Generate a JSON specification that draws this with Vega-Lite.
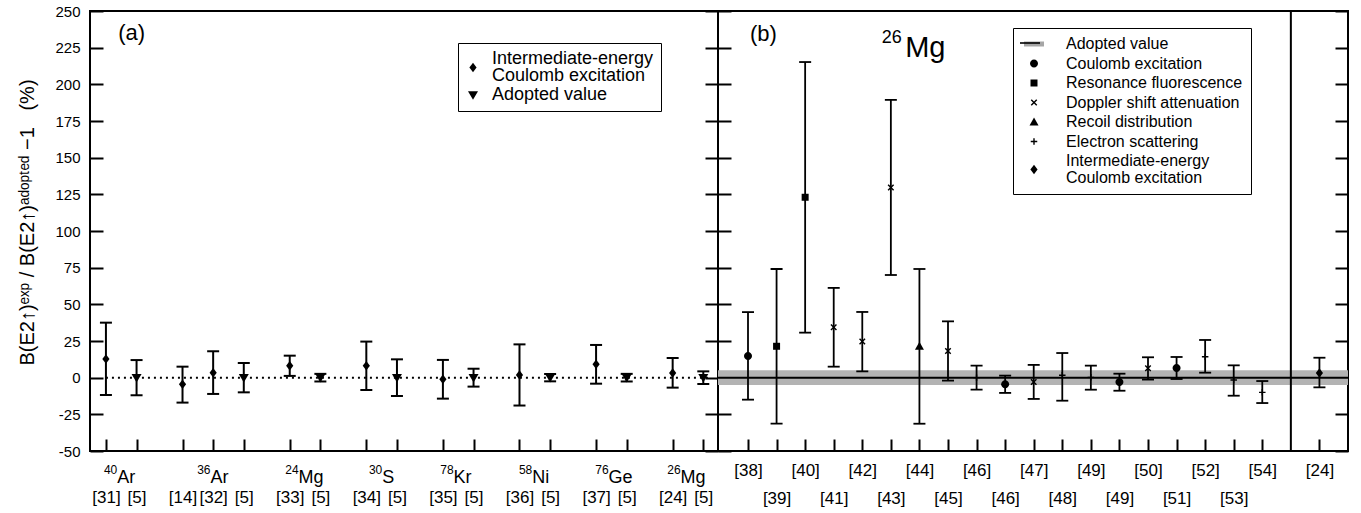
{
  "$schema": "https://vega.github.io/schema/vega-lite/v6.json",
  "autosize": {"type": "pad"},
  "padding": {"left": 16, "top": 3, "right": 5, "bottom": 0},
  "background": "white",
  "spacing": 0,
  "bounds": "flush",
  "datasets": {
    "a": [
      {"x": 0, "v": 12.7, "lo": -11.8, "hi": 37.5, "m": "Intermediate-energy Coulomb excitation"},
      {"x": 1, "v": 0, "lo": -12, "hi": 12, "m": "Adopted value"},
      {"x": 2.5, "v": -4.5, "lo": -17, "hi": 7.5, "m": "Intermediate-energy Coulomb excitation"},
      {"x": 3.5, "v": 3.4, "lo": -11.1, "hi": 18, "m": "Intermediate-energy Coulomb excitation"},
      {"x": 4.5, "v": 0, "lo": -10, "hi": 10, "m": "Adopted value"},
      {"x": 6, "v": 8.2, "lo": 1.2, "hi": 15, "m": "Intermediate-energy Coulomb excitation"},
      {"x": 7, "v": 0, "lo": -2.6, "hi": 2.6, "m": "Adopted value"},
      {"x": 8.5, "v": 8.2, "lo": -8.4, "hi": 24.6, "m": "Intermediate-energy Coulomb excitation"},
      {"x": 9.5, "v": 0, "lo": -12.5, "hi": 12.5, "m": "Adopted value"},
      {"x": 11, "v": -1.1, "lo": -14.3, "hi": 12.1, "m": "Intermediate-energy Coulomb excitation"},
      {"x": 12, "v": 0, "lo": -6.1, "hi": 6.1, "m": "Adopted value"},
      {"x": 13.5, "v": 1.8, "lo": -19, "hi": 22.7, "m": "Intermediate-energy Coulomb excitation"},
      {"x": 14.5, "v": 0, "lo": -2.5, "hi": 2.5, "m": "Adopted value"},
      {"x": 16, "v": 9.1, "lo": -4.1, "hi": 22.3, "m": "Intermediate-energy Coulomb excitation"},
      {"x": 17, "v": 0, "lo": -2.6, "hi": 2.6, "m": "Adopted value"},
      {"x": 18.5, "v": 3.2, "lo": -6.8, "hi": 13.4, "m": "Intermediate-energy Coulomb excitation"},
      {"x": 19.5, "v": 0, "lo": -4.3, "hi": 4.3, "m": "Adopted value"}
    ],
    "b": [
      {"x": 0, "v": 14.8, "lo": -15, "hi": 44.7, "m": "Coulomb excitation"},
      {"x": 1, "v": 21.4, "lo": -31.4, "hi": 74.1, "m": "Resonance fluorescence"},
      {"x": 2, "v": 123, "lo": 30.7, "hi": 215.2, "m": "Resonance fluorescence"},
      {"x": 3, "v": 34.4, "lo": 7.5, "hi": 61.2, "m": "Doppler shift attenuation"},
      {"x": 4, "v": 24.6, "lo": 4.3, "hi": 44.8, "m": "Doppler shift attenuation"},
      {"x": 5, "v": 129.6, "lo": 70, "hi": 189.4, "m": "Doppler shift attenuation"},
      {"x": 6, "v": 21.4, "lo": -31.4, "hi": 74.1, "m": "Recoil distribution"},
      {"x": 7, "v": 18.2, "lo": -2, "hi": 38.4, "m": "Doppler shift attenuation"},
      {"x": 8, "v": 0, "lo": -8.2, "hi": 8.2, "m": "Electron scattering"},
      {"x": 9, "v": -4.5, "lo": -10.4, "hi": 1.4, "m": "Coulomb excitation"},
      {"x": 10, "v": -2.9, "lo": -14.5, "hi": 8.7, "m": "Doppler shift attenuation"},
      {"x": 11, "v": 1.6, "lo": -15.7, "hi": 16.8, "m": "Electron scattering"},
      {"x": 12, "v": 0.2, "lo": -8.2, "hi": 8.2, "m": "Electron scattering"},
      {"x": 13, "v": -2.9, "lo": -8.9, "hi": 2.7, "m": "Coulomb excitation"},
      {"x": 14, "v": 6.4, "lo": -1.3, "hi": 13.9, "m": "Doppler shift attenuation"},
      {"x": 15, "v": 6.6, "lo": -0.9, "hi": 14.1, "m": "Coulomb excitation"},
      {"x": 16, "v": 14.3, "lo": 3.4, "hi": 25.7, "m": "Electron scattering"},
      {"x": 17, "v": -1.6, "lo": -12.3, "hi": 8.4, "m": "Electron scattering"},
      {"x": 18, "v": -10, "lo": -17.3, "hi": -2.3, "m": "Electron scattering"},
      {"x": 20, "v": 3.2, "lo": -6.6, "hi": 13.6, "m": "Intermediate-energy Coulomb excitation"}
    ]
  },
  "hconcat": [
    {
      "width": 628,
      "height": 440,
      "data": {"name": "a"},
      "resolve": {"axis": {"x": "independent", "y": "independent"}, "scale": {"shape": "independent"}, "legend": {"shape": "independent"}},
      "layer": [
        {
          "data": {"values": [{}]},
          "mark": {"type": "rule", "color": "black", "strokeWidth": 2, "strokeDash": [2, 4]},
          "encoding": {
            "x": {"datum": 0, "type": "quantitative", "axis": null},
            "x2": {"datum": 19.65},
            "y": {"datum": 0, "type": "quantitative", "axis": null}
          }
        },
        {
          "mark": {"type": "rule", "color": "black", "strokeWidth": 2},
          "encoding": {
            "x": {
              "field": "x", "type": "quantitative",
              "scale": {"domain": [-0.52, 19.98], "nice": false, "zero": false},
              "axis": {
                "orient": "bottom",
                "title": null,
                "values": [0, 1, 2.5, 3.5, 4.5, 6, 7, 8.5, 9.5, 11, 12, 13.5, 14.5, 16, 17, 18.5, 19.5],
                "labelExpr": "['[31]','[5]','[14]','[32]','[5]','[33]','[5]','[34]','[5]','[35]','[5]','[36]','[5]','[37]','[5]','[24]','[5]'][indexof([0,1,2.5,3.5,4.5,6,7,8.5,9.5,11,12,13.5,14.5,16,17,18.5,19.5], datum.value)]",
                "tickSize": -12,
                "labelPadding": 58,
                "labelBaseline": "middle",
                "labelFontSize": 17
              }
            },
            "y": {
              "field": "lo", "type": "quantitative",
              "scale": {"domain": [-50, 250], "nice": false, "zero": false},
              "axis": {
                "orient": "left",
                "values": [-50, -25, 0, 25, 50, 75, 100, 125, 150, 175, 200, 225, 250],
                "labelExpr": "'' + datum.value",
                "tickSize": -13,
                "labelPadding": 23,
                "labelFontSize": 15,
                "title": "B(E2↑)ᵉˣᵖ / B(E2↑)ᵃᵈᵒᵖᵗᵉᵈ −1\u00a0\u00a0\u00a0(%)",
                "titleFontSize": 20,
                "titleFontWeight": "normal",
                "titleFont": "Liberation Sans",
                "titleAngle": -90,
                "titleX": -57,
                "titleY": 211,
                "titleBaseline": "alphabetic",
                "titleAlign": "center"
              }
            },
            "y2": {"field": "hi"}
          }
        },
        {
          "mark": {"type": "tick", "orient": "horizontal", "size": 12, "thickness": 2, "color": "black", "opacity": 1},
          "encoding": {
            "x": {
              "field": "x", "type": "quantitative",
              "axis": {
                "orient": "bottom",
                "title": null,
                "values": [0.353, 3.399, 6.272, 9.004, 11.332, 13.901, 16.392, 18.743],
                "labelExpr": "['40','36','24','30','78','58','76','26'][indexof([0.353,3.399,6.272,9.004,11.332,13.901,16.392,18.743], datum.value)]",
                "ticks": false,
                "labelAlign": "right",
                "labelPadding": 18,
                "labelBaseline": "middle",
                "labelFontSize": 12
              }
            },
            "y": {"field": "lo", "type": "quantitative", "axis": null}
          }
        },
        {
          "mark": {"type": "tick", "orient": "horizontal", "size": 12, "thickness": 2, "color": "black", "opacity": 1},
          "encoding": {
            "x": {"field": "x", "type": "quantitative", "axis": null},
            "y": {"field": "hi", "type": "quantitative", "axis": null}
          }
        },
        {
          "mark": {"type": "point", "filled": true, "color": "black", "opacity": 1, "size": 100, "strokeWidth": 0},
          "encoding": {
            "x": {
              "field": "x", "type": "quantitative",
              "axis": {
                "orient": "bottom",
                "title": null,
                "values": [0.353, 3.399, 6.272, 9.004, 11.332, 13.901, 16.392, 18.743],
                "labelExpr": "['Ar','Ar','Mg','S','Kr','Ni','Ge','Mg'][indexof([0.353,3.399,6.272,9.004,11.332,13.901,16.392,18.743], datum.value)]",
                "ticks": false,
                "labelAlign": "left",
                "labelPadding": 26,
                "labelBaseline": "middle",
                "labelFontSize": 18
              }
            },
            "y": {
              "field": "v", "type": "quantitative",
              "axis": {
                "orient": "right",
                "title": null,
                "values": [-50, -25, 0, 25, 50, 75, 100, 125, 150, 175, 200, 225, 250],
                "labels": false,
                "tickSize": -13
              }
            },
            "shape": {
              "field": "m", "type": "nominal",
              "scale": {
                "domain": ["Intermediate-energy Coulomb excitation", "Adopted value"],
                "range": ["M0,-0.95L0.72,0L0,0.95L-0.72,0Z", "M-1,-0.75L1,-0.75L0,0.95Z"]
              },
              "legend": null
            }
          }
        },
        {
          "transform": [{"filter": "false"}],
          "mark": {"type": "point", "filled": true, "color": "black", "opacity": 1, "size": 100, "strokeWidth": 0},
          "encoding": {
            "x": {"field": "x", "type": "quantitative", "axis": null},
            "y": {"field": "v", "type": "quantitative", "axis": null},
            "shape": {
              "field": "m", "type": "nominal",
              "scale": {
                "domain": ["Intermediate-energy Coulomb excitation", "Adopted value"],
                "range": ["M0,0.75L0.72,1.7L0,2.65L-0.72,1.7Z", "M-1,-0.75L1,-0.75L0,0.95Z"]
              },
              "legend": {
                "title": null,
                "orient": "none",
                "legendX": 368,
                "legendY": 32,
                "padding": 7,
                "symbolOffset": -1,
                "labelOffset": 10,
                "labelFontSize": 18,
                "rowPadding": 1,
                "symbolFillColor": "black",
                "labelExpr": "datum.label == 'Intermediate-energy Coulomb excitation' ? ['Intermediate-energy', 'Coulomb excitation'] : datum.label"
              }
            }
          }
        },
        {
          "data": {"values": [{}]},
          "mark": {"type": "text", "text": "(a)", "align": "left", "baseline": "middle", "fontSize": 22, "fontWeight": "normal", "font": "Liberation Sans", "fill": "black"},
          "encoding": {
            "x": {"datum": 0.4, "type": "quantitative", "axis": null},
            "y": {"datum": 235, "type": "quantitative", "axis": null}
          }
        }
      ]
    },
    {
      "width": 630,
      "height": 440,
      "data": {"name": "b"},
      "resolve": {"axis": {"x": "independent", "y": "independent"}, "scale": {"shape": "independent", "color": "independent"}, "legend": {"shape": "independent", "color": "independent"}},
      "layer": [
        {
          "data": {"values": [{}]},
          "mark": {"type": "rect", "color": "#b3b3b3", "opacity": 1},
          "encoding": {
            "x": {"datum": -1.05, "type": "quantitative", "axis": null},
            "x2": {"datum": 21},
            "y": {"datum": -5, "type": "quantitative", "axis": null},
            "y2": {"datum": 5}
          }
        },
        {
          "data": {"values": [{}]},
          "mark": {"type": "rule", "color": "black", "strokeWidth": 2},
          "encoding": {
            "y": {"datum": 0, "type": "quantitative", "axis": null}
          }
        },
        {
          "data": {"values": [{}]},
          "mark": {"type": "rule", "color": "black", "strokeWidth": 2},
          "encoding": {
            "x": {"datum": 19, "type": "quantitative", "axis": null}
          }
        },
        {
          "mark": {"type": "rule", "color": "black", "strokeWidth": 1.8},
          "encoding": {
            "x": {
              "field": "x", "type": "quantitative",
              "scale": {"domain": [-1.05, 21], "nice": false, "zero": false},
              "axis": {
                "orient": "bottom",
                "title": null,
                "values": [0, 1, 2, 3, 4, 5, 6, 7, 8, 9, 10, 11, 12, 13, 14, 15, 16, 17, 18, 20],
                "labelExpr": "indexof([0,2,4,6,8,10,12,14,16,18,20], datum.value) >= 0 ? ['[38]','[40]','[42]','[44]','[46]','[47]','[49]','[50]','[52]','[54]','[24]'][indexof([0,2,4,6,8,10,12,14,16,18,20], datum.value)] : ''",
                "tickSize": -12,
                "labelPadding": 31,
                "labelBaseline": "middle",
                "labelFontSize": 17
              }
            },
            "y": {
              "field": "lo", "type": "quantitative",
              "scale": {"domain": [-50, 250], "nice": false, "zero": false},
              "axis": {
                "orient": "left",
                "title": null,
                "values": [-50, -25, 0, 25, 50, 75, 100, 125, 150, 175, 200, 225, 250],
                "labels": false,
                "tickSize": -13
              }
            },
            "y2": {"field": "hi"}
          }
        },
        {
          "mark": {"type": "tick", "orient": "horizontal", "size": 12, "thickness": 1.8, "color": "black", "opacity": 1},
          "encoding": {
            "x": {"field": "x", "type": "quantitative", "axis": null},
            "y": {"field": "lo", "type": "quantitative", "axis": null}
          }
        },
        {
          "mark": {"type": "tick", "orient": "horizontal", "size": 12, "thickness": 1.8, "color": "black", "opacity": 1},
          "encoding": {
            "x": {"field": "x", "type": "quantitative", "axis": null},
            "y": {"field": "hi", "type": "quantitative", "axis": null}
          }
        },
        {
          "mark": {"type": "point", "filled": true, "color": "black", "opacity": 1, "size": 100, "strokeWidth": 0},
          "encoding": {
            "x": {
              "field": "x", "type": "quantitative",
              "axis": {
                "orient": "bottom",
                "title": null,
                "values": [1, 3, 5, 7, 9, 11, 13, 15, 17],
                "labelExpr": "['[39]','[41]','[43]','[45]','[46]','[48]','[49]','[51]','[53]'][indexof([1,3,5,7,9,11,13,15,17], datum.value)]",
                "ticks": false,
                "labelPadding": 47,
                "labelBaseline": "middle",
                "labelFontSize": 17
              }
            },
            "y": {
              "field": "v", "type": "quantitative",
              "axis": {
                "orient": "right",
                "title": null,
                "values": [-50, -25, 0, 25, 50, 75, 100, 125, 150, 175, 200, 225, 250],
                "labels": false,
                "tickSize": -13
              }
            },
            "shape": {
              "field": "m", "type": "nominal",
              "scale": {
                "domain": ["Adopted value", "Coulomb excitation", "Resonance fluorescence", "Doppler shift attenuation", "Recoil distribution", "Electron scattering", "Intermediate-energy Coulomb excitation"],
                "range": [
                  "M-2,-0.6H2V0.6H-2Z",
                  "M0.8,0A0.8,0.8,0,1,1,-0.8,0A0.8,0.8,0,1,1,0.8,0Z",
                  "M-0.7,-0.7H0.7V0.7H-0.7Z",
                  "M-0.65,-0.45L-0.45,-0.65L0,-0.2L0.45,-0.65L0.65,-0.45L0.2,0L0.65,0.45L0.45,0.65L0,0.2L-0.45,0.65L-0.65,0.45L-0.2,0Z",
                  "M0,-0.9L0.9,0.7L-0.9,0.7Z",
                  "M-0.14,-0.65H0.14V-0.14H0.65V0.14H0.14V0.65H-0.14V0.14H-0.65V-0.14H-0.14Z",
                  "M0,-0.95L0.72,0L0,0.95L-0.72,0Z"
                ]
              },
              "legend": null
            }
          }
        },
        {
          "transform": [{"filter": "false"}],
          "mark": {"type": "point", "filled": true, "opacity": 1, "size": 100, "strokeWidth": 0},
          "encoding": {
            "x": {"field": "x", "type": "quantitative", "axis": null},
            "y": {"field": "v", "type": "quantitative", "axis": null},
            "shape": {
              "field": "m", "type": "nominal",
              "scale": {
                "domain": ["Adopted value", "Coulomb excitation", "Resonance fluorescence", "Doppler shift attenuation", "Recoil distribution", "Electron scattering", "Intermediate-energy Coulomb excitation"],
                "range": [
                  "M-2,-0.5H2V0.5H-2Z",
                  "M0.8,0A0.8,0.8,0,1,1,-0.8,0A0.8,0.8,0,1,1,0.8,0Z",
                  "M-0.7,-0.7H0.7V0.7H-0.7Z",
                  "M-0.65,-0.45L-0.45,-0.65L0,-0.2L0.45,-0.65L0.65,-0.45L0.2,0L0.65,0.45L0.45,0.65L0,0.2L-0.45,0.65L-0.65,0.45L-0.2,0Z",
                  "M0,-0.9L0.9,0.7L-0.9,0.7Z",
                  "M-0.14,-0.65H0.14V-0.14H0.65V0.14H0.14V0.65H-0.14V0.14H-0.65V-0.14H-0.14Z",
                  "M0,0.75L0.72,1.7L0,2.65L-0.72,1.7Z"
                ]
              },
              "legend": {
                "title": null,
                "orient": "none",
                "legendX": 295,
                "legendY": 17,
                "padding": 8,
                "symbolOffset": 5,
                "labelOffset": 24,
                "labelFontSize": 16,
                "rowPadding": 3.5,
                "labelExpr": "datum.label == 'Intermediate-energy Coulomb excitation' ? ['Intermediate-energy', 'Coulomb excitation'] : datum.label"
              }
            },
            "color": {
              "field": "m", "type": "nominal",
              "scale": {
                "domain": ["Adopted value", "Coulomb excitation", "Resonance fluorescence", "Doppler shift attenuation", "Recoil distribution", "Electron scattering", "Intermediate-energy Coulomb excitation"],
                "range": ["#a6a6a6", "black", "black", "black", "black", "black", "black"]
              },
              "legend": {
                "title": null,
                "orient": "none",
                "legendX": 295,
                "legendY": 17,
                "padding": 8,
                "symbolOffset": 5,
                "labelOffset": 24,
                "labelFontSize": 16,
                "rowPadding": 3.5,
                "labelExpr": "datum.label == 'Intermediate-energy Coulomb excitation' ? ['Intermediate-energy', 'Coulomb excitation'] : datum.label"
              }
            }
          }
        },
        {
          "transform": [{"filter": "false"}],
          "mark": {"type": "point", "filled": true, "color": "black", "opacity": 1, "size": 100, "strokeWidth": 0},
          "encoding": {
            "x": {"field": "x", "type": "quantitative", "axis": null},
            "y": {"field": "v", "type": "quantitative", "axis": null},
            "shape": {
              "field": "m", "type": "nominal",
              "scale": {
                "domain": ["Adopted value"],
                "range": ["M-2,-0.16H2V0.16H-2Z"]
              },
              "legend": {
                "title": null,
                "orient": "none",
                "legendX": 295,
                "legendY": 27,
                "padding": 0,
                "symbolOffset": 12,
                "labelOffset": 0,
                "labelExpr": "''",
                "strokeColor": "rgba(0,0,0,0)",
                "fillColor": "rgba(0,0,0,0)",
                "symbolFillColor": "black"
              }
            }
          }
        },
        {
          "data": {"values": [{}]},
          "mark": {"type": "text", "text": "(b)", "align": "left", "baseline": "middle", "fontSize": 22, "fontWeight": "normal", "font": "Liberation Sans", "fill": "black"},
          "encoding": {
            "x": {"datum": 0.07, "type": "quantitative", "axis": null},
            "y": {"datum": 234, "type": "quantitative", "axis": null}
          }
        },
        {
          "data": {"values": [{}]},
          "mark": {"type": "text", "text": "Mg", "align": "left", "baseline": "alphabetic", "fontSize": 29, "fontWeight": "normal", "font": "Liberation Sans", "fill": "black"},
          "encoding": {
            "x": {"datum": 5.5, "type": "quantitative", "axis": null},
            "y": {"datum": 218.6, "type": "quantitative", "axis": null}
          }
        },
        {
          "data": {"values": [{}]},
          "mark": {"type": "text", "text": "26", "align": "right", "baseline": "alphabetic", "fontSize": 18, "fontWeight": "normal", "font": "Liberation Sans", "fill": "black"},
          "encoding": {
            "x": {"datum": 5.38, "type": "quantitative", "axis": null},
            "y": {"datum": 228, "type": "quantitative", "axis": null}
          }
        }
      ]
    }
  ],
  "resolve": {
    "scale": {"x": "independent", "y": "independent", "shape": "independent", "color": "independent"},
    "legend": {"shape": "independent", "color": "independent"}
  },
  "config": {
    "font": "Liberation Sans",
    "view": {"stroke": "black", "strokeWidth": 2},
    "style": {"guide-label": {"lineHeight": 17}},
    "axis": {
      "grid": false,
      "domain": false,
      "labelFont": "Liberation Sans",
      "labelColor": "black",
      "tickColor": "black",
      "tickWidth": 2,
      "labelFlush": false,
      "labelOverlap": false,
      "titleColor": "black"
    },
    "legend": {
      "strokeColor": "black",
      "fillColor": "white",
      "strokeWidth": 1,
      "labelFont": "Liberation Sans",
      "labelColor": "black",
      "labelLimit": 400,
      "symbolSize": 100,
      "symbolStrokeWidth": 0,
      "symbolOpacity": 1
    }
  }
}
